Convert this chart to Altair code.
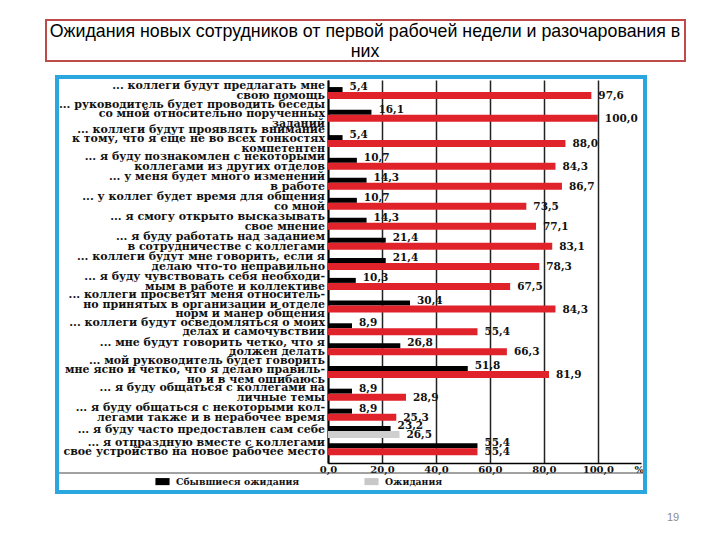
import altair as alt
import pandas as pd

title_lines = ["Ожидания новых сотрудников от первой рабочей недели и разочарования в", "них"]

categories = [
    "... коллеги будут предлагать мне|свою помощь",
    "... руководитель будет проводить беседы|со мной относительно порученных|заданий",
    "... коллеги будут проявлять внимание|к тому, что я еще не во всех тонкостях|компетентен",
    "... я буду познакомлен с некоторыми|коллегами из других отделов",
    "... у меня будет много изменений|в работе",
    "... у коллег будет время для общения|со мной",
    "... я смогу открыто высказывать|свое мнение",
    "... я буду работать над заданием|в сотрудничестве с коллегами",
    "... коллеги будут мне говорить, если я|делаю что-то неправильно",
    "... я буду чувствовать себя необходи-|мым в работе и коллективе",
    "... коллеги просветят меня относитель-|но принятых в организации и отделе|норм и манер общения",
    "... коллеги будут осведомляться о моих|делах и самочувствии",
    "... мне будут говорить четко, что я|должен делать",
    "... мой руководитель будет говорить|мне ясно и четко, что я делаю правиль-|но и в чем ошибаюсь",
    "... я буду общаться с коллегами на|личные темы",
    "... я буду общаться с некоторыми кол-|легами также и в нерабочее время",
    "... я буду часто предоставлен сам себе",
    "... я отпраздную вместе с коллегами|свое устройство на новое рабочее место",
]
fulfilled = [5.4, 16.1, 5.4, 10.7, 14.3, 10.7, 14.3, 21.4, 21.4, 10.3, 30.4, 8.9, 26.8, 51.8, 8.9, 8.9, 23.2, 55.4]
expected = [97.6, 100.0, 88.0, 84.3, 86.7, 73.5, 77.1, 83.1, 78.3, 67.5, 84.3, 55.4, 66.3, 81.9, 28.9, 25.3, 26.5, 55.4]
series_names = ["Сбывшиеся ожидания", "Ожидания"]
x_ticks = [0, 20, 40, 60, 80, 100]
page_number = "19"
gray_row = categories[16]

df = pd.DataFrame({"idx": list(range(len(categories))), "cat": categories,
                   "done": fulfilled, "exp": expected})
df["series"] = series_names[0]

SERIF = "DejaVu Serif"
RED = "#e0222a"
BLUE = "#2aa7de"
LINE_H = 9.5

# row height grows with the number of text lines of the category label
base = alt.Chart(df).transform_calculate(
    lines="length(split(datum.cat, '|'))",
    parts="split(datum.cat, '|')",
).transform_calculate(
    w="9.55 + 5.5 * datum.lines"
).transform_window(
    cum="sum(w)", sort=[alt.SortField("idx")], frame=[None, 0]
).transform_calculate(
    pos="datum.cum - datum.w / 2 - 2",
    lblpos=f"datum.cum - datum.w / 2 - 4 - (datum.lines - 1) * {LINE_H / 2}",
    done_lbl="replace(format(datum.done, '.1f'), '.', ',')",
    exp_lbl="replace(format(datum.exp, '.1f'), '.', ',')",
)

y_scale = alt.Scale(domain=[0, 383], reverse=True, nice=False, zero=False)

x_axis = alt.Axis(values=x_ticks, title="%", titleX=306, titleY=6,
                  titleAlign="left", titleBaseline="middle", titleFont=SERIF,
                  titleFontSize=10, titleFontWeight="bold", titleColor="#111",
                  labelExpr="replace(format(datum.value, '.1f'), '.', ',')",
                  labelFont=SERIF, labelFontSize=10, labelFontWeight="bold",
                  labelColor="#111", labelPadding=1, labelFlush=False, ticks=False,
                  domainColor="#000", domainWidth=1.5,
                  grid=True, gridColor="#222", gridWidth=1.5)
y_axis = alt.Axis(title=None, labels=False, ticks=False, grid=False,
                  domainColor="#000", domainWidth=2)
x_scale = alt.Scale(domain=[0, 116], nice=False)

black_bars = base.mark_bar(orient="horizontal", size=5, yOffset=-3.5).encode(
    x=alt.X("done:Q", scale=x_scale, axis=x_axis, stack=None),
    y=alt.Y("pos:Q", scale=y_scale, axis=y_axis),
    color=alt.Color("series:N", title=None,
                    scale=alt.Scale(domain=series_names, range=["#000000", "#c8c8c8"]),
                    legend=alt.Legend(orient="none", legendX=-173, legendY=394,
                                      direction="horizontal",
                                      symbolType="M-1,-0.5H1V0.5H-1Z", symbolSize=200,
                                      symbolStrokeWidth=0,
                                      labelFont=SERIF, labelFontSize=9.3,
                                      labelFontWeight="bold", labelColor="#111",
                                      labelOffset=6, columnPadding=64)),
)

red_bars = base.mark_bar(orient="horizontal", size=7, yOffset=2.5).encode(
    x=alt.X("exp:Q", scale=x_scale, stack=None),
    y=alt.Y("pos:Q", scale=y_scale),
    color=alt.condition(f"datum.cat == '{gray_row}'", alt.value("#cfcfcf"), alt.value(RED)),
)

black_text = base.mark_text(align="left", baseline="middle", dx=7, yOffset=-6,
                            font=SERIF, fontSize=10.5, fontWeight="bold", color="#111").encode(
    x=alt.X("done:Q", scale=x_scale), y=alt.Y("pos:Q", scale=y_scale), text="done_lbl:N")

red_text = base.mark_text(align="left", baseline="middle", dx=7, yOffset=3,
                          font=SERIF, fontSize=10.5, fontWeight="bold", color="#111").encode(
    x=alt.X("exp:Q", scale=x_scale), y=alt.Y("pos:Q", scale=y_scale), text="exp_lbl:N")

cat_text = base.mark_text(align="right", baseline="middle", dx=-3, lineHeight=LINE_H,
                          font=SERIF, fontSize=11, fontWeight="bold", color="#111").encode(
    x=alt.value(0), y=alt.Y("lblpos:Q", scale=y_scale), text="parts:N")

one = alt.Data(values=[{"k": 1}])

frame = alt.Chart(one).mark_rect(filled=False, stroke=BLUE, strokeWidth=4).encode(
    x=alt.value(-271), x2=alt.value(317), y=alt.value(-3), y2=alt.value(412))

separator = alt.Chart(one).mark_rule(color="#444", strokeWidth=1).encode(
    x=alt.value(-269), x2=alt.value(315), y=alt.value(393))

title_box = alt.Chart(one).mark_rect(filled=False, stroke="#be4b48", strokeWidth=2).encode(
    x=alt.value(-282), x2=alt.value(357), y=alt.value(-60), y2=alt.value(-19))

title_text = alt.Chart(one).mark_text(
    align="center", baseline="middle", font="Liberation Sans", fontSize=17.8,
    color="#000", lineHeight=20).encode(
    x=alt.value(37), y=alt.value(-48), text=alt.value(title_lines))

page_text = alt.Chart(one).mark_text(
    align="center", baseline="middle", font="Liberation Sans", fontSize=11,
    color="#8c8c8c").encode(
    x=alt.value(345), y=alt.value(438), text=alt.value(page_number))

chart = alt.layer(
    black_bars, red_bars, black_text, red_text, cat_text,
    frame, separator, title_box, title_text, page_text
).properties(
    width=313, height=383,
    autosize=alt.AutoSizeParams(type="none"),
    padding={"left": 328, "top": 80, "right": 79, "bottom": 77},
    background="white",
).configure_view(strokeWidth=0)

chart.save("out.html", embed_options={"renderer": "svg", "actions": False})
